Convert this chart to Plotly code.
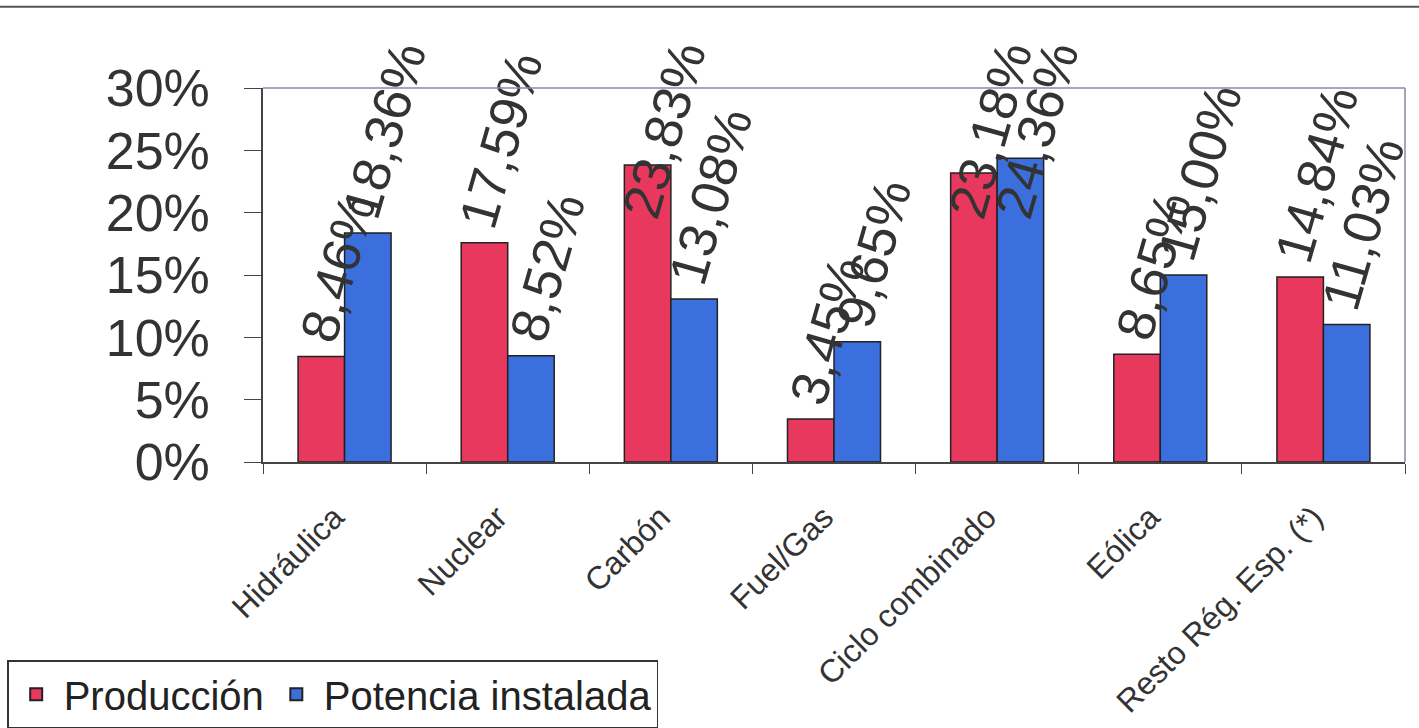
import numpy as np
import plotly.graph_objects as go

categories = ["Hidráulica", "Nuclear", "Carbón", "Fuel/Gas", "Ciclo combinado", "Eólica", "Resto Rég. Esp. (*)"]
produccion = [0.0846, 0.1759, 0.2383, 0.0345, 0.2318, 0.0865, 0.1484]
potencia = [0.1836, 0.0852, 0.1308, 0.0965, 0.2436, 0.1500, 0.1103]
series_names = ["Producción", "Potencia instalada"]

RED = "#E8385E"
BLUE = "#3B6FDE"
TXT = "#333333"
FONT = "Liberation Sans, Arial, sans-serif"

BARGAP = 0.43
BAR_W = (1 - BARGAP) / 2
# Excel keeps the rotated labels inside the chart area: label start is clamped
LABEL_LIFT = 0.004
LABEL_CAP = 0.188
LABEL_SHIFT = 0.10


def fmt(v):
    return f"{v*100:.2f}%".replace(".", ",")


fig = go.Figure()
for name, vals, col, grp in [(series_names[0], produccion, RED, "a"),
                             (series_names[1], potencia, BLUE, "b")]:
    fig.add_trace(go.Bar(
        x=categories, y=vals, name=name, offsetgroup=grp,
        marker=dict(color=col, line=dict(color="#222222", width=1.5)),
    ))
for vals, off in [(produccion, -BAR_W + LABEL_SHIFT), (potencia, LABEL_SHIFT)]:
    base_h = np.minimum(np.array(vals) + LABEL_LIFT, LABEL_CAP)
    fig.add_trace(go.Bar(
        x=categories, y=base_h, showlegend=False, width=BAR_W, offset=off,
        marker=dict(color="rgba(0,0,0,0)", line=dict(width=0)),
        text=[fmt(v) for v in vals], textposition="outside", textangle=-74,
        constraintext="none", cliponaxis=False,
        textfont=dict(size=53, color=TXT, family=FONT), hoverinfo="skip",
    ))

fig.update_layout(
    width=1419, height=728,
    margin=dict(l=263, r=14, t=88, b=266, autoexpand=False),
    paper_bgcolor="white", plot_bgcolor="white",
    barmode="group", bargap=BARGAP, bargroupgap=0,
    font=dict(family=FONT, color=TXT),
    showlegend=True,
    legend=dict(orientation="h", x=-0.224, y=-0.712, xanchor="left", yanchor="bottom",
                font=dict(size=40, color="#222222", family=FONT),
                bordercolor="#333333", borderwidth=1.5, bgcolor="white",
                itemsizing="constant", itemwidth=45, traceorder="normal"),
    xaxis=dict(type="category", showline=True, linecolor="#444444", linewidth=1.5,
               ticks="outside", tickson="boundaries", ticklen=10, tickcolor="#444444",
               tickangle=-45, tickfont=dict(size=32, color=TXT, family=FONT),
               ticklabelstandoff=22, ticklabelshift=-10,
               showgrid=False, zeroline=False),
    yaxis=dict(range=[0, 0.30], dtick=0.05, tickformat=".0%", showline=True,
               linecolor="#444444", linewidth=1.5, ticks="outside", ticklen=17,
               tickcolor="#444444", tickfont=dict(size=52, color=TXT, family=FONT),
               ticklabelstandoff=24, showgrid=False, zeroline=False),
    shapes=[
        dict(type="line", xref="paper", yref="paper", x0=0, x1=1, y0=1, y1=1,
             line=dict(color="#8C84A8", width=1.5)),
        dict(type="line", xref="paper", yref="paper", x0=1, x1=1, y0=0, y1=1,
             line=dict(color="#8C84A8", width=1.5)),
        dict(type="line", xref="paper", yref="paper", x0=-0.24, x1=1.02, y0=1.217, y1=1.217,
             line=dict(color="#555555", width=2)),
    ],
)

fig.write_html("out.html")
